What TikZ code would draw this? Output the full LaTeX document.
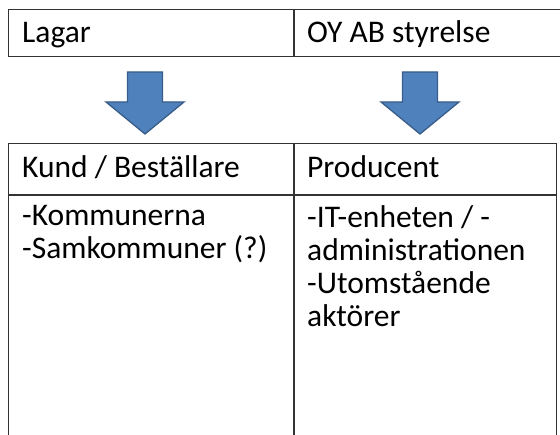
\documentclass[tikz,border=0pt]{standalone}
\usepackage{fontspec}
\setmainfont{Carlito}
\definecolor{arrowblue}{HTML}{4F81BD}
\definecolor{arrowedge}{HTML}{385D8A}

\begin{document}
\begin{tikzpicture}[x=1pt, y=-1pt,
    cell/.style={draw=black!80, line width=1.1pt, anchor=north west, inner sep=0pt},
    txt/.style={anchor=north west, inner sep=0pt, align=left,
      font=\fontsize{31.5}{33}\selectfont, execute at begin node=\strut},
    blockarrow/.style={fill=arrowblue, draw=arrowedge, line width=1.3pt, line join=miter}
  ]
    \clip (0,0) rectangle (560,435);
    % top row
    \node[cell, minimum width=285pt, minimum height=47pt] (lagar) at (8,9) {};
    \node[cell, minimum width=300pt, minimum height=47pt] (styrelse) at (lagar.north east) {};
    \node[txt] (lagartxt) at (22,19) {Lagar};
    \node[txt] (styrelsetxt) at (307,19) {OY AB styrelse};
    % arrows
    \foreach \cx in {145,420}
      \draw[blockarrow] (\cx-17.5,72) -- (\cx+17.5,72) -- (\cx+17.5,102) -- (\cx+39,102)
        -- (\cx,134) -- (\cx-39,102) -- (\cx-17.5,102) -- cycle;
    % lower table
    \node[cell, minimum width=285pt, minimum height=51pt] (kund) at (8,143) {};
    \node[cell, minimum width=262pt, minimum height=51pt] (producent) at (kund.north east) {};
    \node[cell, minimum width=285pt, minimum height=300pt] (kunder) at (kund.south west) {};
    \node[cell, minimum width=262pt, minimum height=300pt] (producenter) at (kunder.north east) {};
    \node[txt] (kundtxt) at (22,154) {Kund / Beställare};
    \node[txt] (producenttxt) at (307,154) {Producent};
    \node[txt] (kundertxt) at (22,205) {-Kommunerna\\-Samkommuner (?)};
    \node[txt] (producentertxt) at (307,205) {-IT-enheten / -\\administrationen\\-Utomstående\\aktörer};
  \end{tikzpicture}
\end{document}
